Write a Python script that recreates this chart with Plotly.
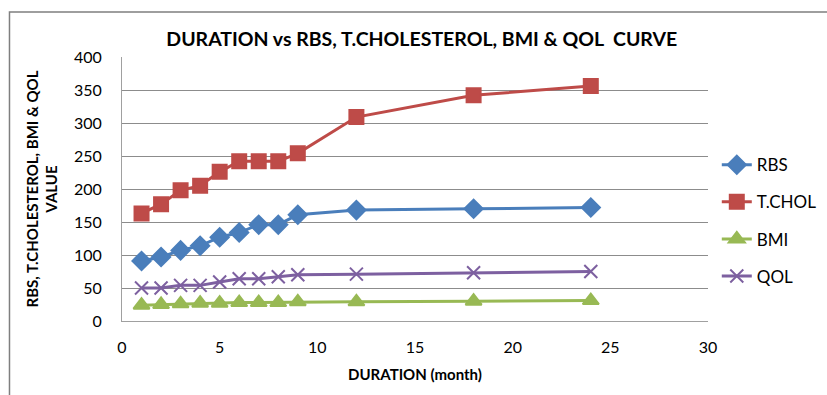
import plotly.graph_objects as go

duration = [1, 2, 3, 4, 5, 6, 7, 8, 9, 12, 18, 24]
rbs = [91, 97, 107, 114, 127, 134, 146, 146, 161, 168, 170, 172]
tchol = [163, 177, 198, 205, 226, 242, 242, 242, 254, 309, 342, 356]
bmi = [24, 25, 26, 27, 27, 28, 28, 28, 29, 29, 30, 31]
qol = [50, 50, 54, 54, 59, 64, 64, 67, 70, 71, 73, 75]

series = [
    ("RBS", rbs, "#4A7EBB", "diamond", 14),
    ("T.CHOL", tchol, "#BE4B48", "square", 14),
    ("BMI", bmi, "#98B954", "triangle-up", 14),
    ("QOL", qol, "#7D60A0", "x-thin", 13),
]

fig = go.Figure()
for i, (name, vals, col, sym, sz) in enumerate(series):
    fig.add_trace(go.Scatter(
        x=duration, y=vals, name=name, mode="lines+markers",
        legendgroup=f"g{i}",
        line=dict(color=col, width=3),
        marker=dict(symbol=sym, size=sz, color=col,
                    line=dict(color=col, width=2)),
    ))

font_family = "Lato, 'Open Sans', sans-serif"
fig.update_layout(
    width=827, height=395,
    margin=dict(l=122, r=119, t=57, b=74, autoexpand=False),
    paper_bgcolor="white", plot_bgcolor="white",
    font=dict(family=font_family, size=16, color="#000000"),
    title=dict(text="<b>DURATION vs RBS, T.CHOLESTEROL, BMI &amp; QOL  CURVE</b>",
               x=0.51, xanchor="center", y=0.9, yanchor="middle",
               font=dict(size=19.5, family=font_family)),
    xaxis=dict(range=[0, 30], dtick=5, showgrid=False, zeroline=False,
               showline=True, linecolor="#A0A0A0", linewidth=1,
               ticks="", tickfont=dict(size=16), ticklabelstandoff=12,
               title=dict(text="<b>DURATION (month)</b>", standoff=14,
                          font=dict(size=15))),
    yaxis=dict(range=[0, 400], dtick=50, showgrid=True, gridcolor="#8C8C8C",
               gridwidth=1, zeroline=False, showline=True,
               linecolor="#A0A0A0", linewidth=1, ticks="",
               tickfont=dict(size=16), ticklabelstandoff=16,
               title=dict(text="<b>RBS, T.CHOLESTEROL, BMI &amp; QOL<br>VALUE</b>",
                          standoff=12, font=dict(size=15))),
    legend=dict(x=1.015, xanchor="left", y=0.38, yanchor="middle",
                font=dict(size=17), tracegroupgap=12,
                bgcolor="rgba(0,0,0,0)"),
    showlegend=True,
)

fig.add_shape(type="rect", xref="paper", yref="paper",
              x0=-0.192, x1=1.3, y0=-0.4, y1=1.17,
              line=dict(color="#7F7F7F", width=1.5), layer="below")

fig.write_html("out.html")
